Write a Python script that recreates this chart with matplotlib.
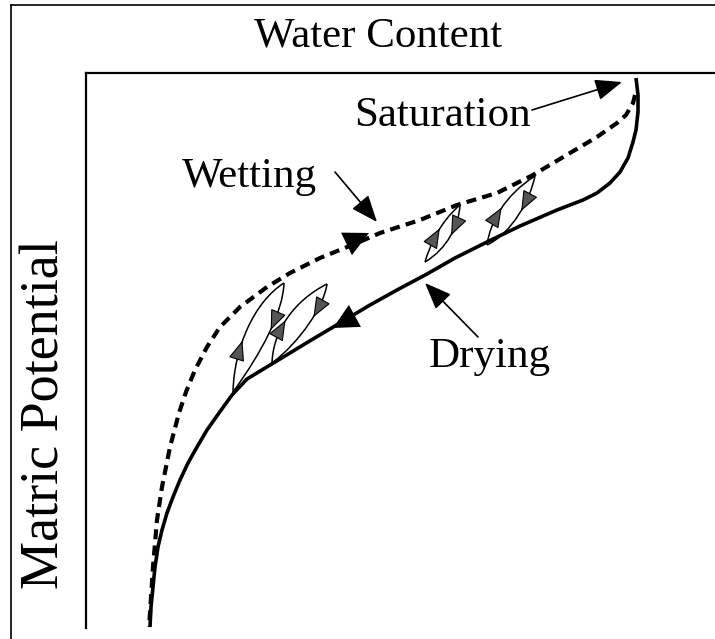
import matplotlib
matplotlib.use("Agg")
import numpy as np
import matplotlib.pyplot as plt
from matplotlib.path import Path
from matplotlib.patches import PathPatch
from matplotlib.lines import Line2D

# main curves (x = water content, y = matric potential, image units)
drying_x = [636, 638, 638, 636, 633, 628, 620, 610, 597, 583, 557, 520, 487, 455, 427, 397,
            370, 340, 313, 280, 247, 232, 219, 207, 197, 188, 180, 173, 167, 162, 158, 155,
            153, 151, 150]
drying_y = [78, 95, 112, 130, 142, 158, 172, 183, 193, 200, 210, 226, 242, 258, 274, 290,
            305, 323, 339, 359, 379, 395, 413, 430, 447, 463, 480, 497, 513, 530, 547, 567,
            587, 607, 627]

wetting_x = [635, 633, 626, 617, 597, 570, 533, 497, 457, 420, 380, 357, 320, 290, 267, 240,
             220, 207, 195, 186, 179, 170, 162, 157, 153, 150, 149]
wetting_y = [95, 103, 115, 123, 137, 153, 175, 193, 205, 220, 233, 243, 258, 273, 287, 307,
             327, 347, 370, 392, 413, 447, 487, 520, 567, 613, 627]

# scanning loops: bottom point, top point and the two control points of each arc
loop_bottom = [(233, 392), (272, 363), (425, 262), (487, 245)]
loop_top = [(284, 283), (327, 284), (460, 205), (535, 176)]
loop_wet_ctrl = [[(234, 348), (254, 302)], [(273, 330), (295, 300)],
                 [(430, 245), (440, 222)], [(490, 222), (505, 195)]]
loop_dry_ctrl = [[(283, 312), (262, 352)], [(324, 306), (300, 342)],
                 [(459, 225), (447, 249)], [(530, 200), (512, 233)]]
loop_wet_t = [0.35, 0.4, 0.5, 0.45]
loop_dry_t = [0.42, 0.36, 0.4, 0.38]

labels = ["Saturation", "Wetting", "Drying"]
label_pos = [(442, 116), (249, 177), (490, 357)]
label_arrow_tail = [(532, 110), (335, 172), (478, 337)]
label_arrow_tip = [(622, 82), (377, 222), (425, 283)]

fig = plt.figure(figsize=(7.15, 6.39), dpi=100)
ax = fig.add_axes([86 / 715, 1 - 628 / 639, 1 - 86 / 715, (628 - 73) / 639])
ax.set_xlim(86, 715)
ax.set_ylim(628, 73)
ax.set_xticks([])
ax.set_yticks([])
for s in ["right", "bottom"]:
    ax.spines[s].set_visible(False)
for s in ["left", "top"]:
    ax.spines[s].set_linewidth(1.6)

# outer frame of the picture
fig.add_artist(Line2D([11 / 715, 11 / 715], [0, 1 - 5 / 639], transform=fig.transFigure,
                      color="black", lw=1.2))
fig.add_artist(Line2D([11 / 715, 1], [1 - 5 / 639, 1 - 5 / 639], transform=fig.transFigure,
                      color="black", lw=1.2))

ax.plot(drying_x, drying_y, color="black", lw=2.6, solid_joinstyle="round",
        solid_capstyle="butt", clip_on=False)
ax.plot(wetting_x, wetting_y, color="black", lw=3.0, dashes=(2.4, 1.5),
        dash_capstyle="butt", clip_on=False)

# big direction arrows on the main curves
big = dict(arrowstyle="-|>,head_length=0.6,head_width=0.3", color="black", lw=0,
           mutation_scale=30, shrinkA=0, shrinkB=0)
ax.annotate("", xy=(369, 233), xytext=(340, 247), arrowprops=big)
ax.annotate("", xy=(333, 328), xytext=(362, 312), arrowprops=big)


def bez(p0, c1, c2, p1, t):
    p0, c1, c2, p1 = [np.array(p, float) for p in (p0, c1, c2, p1)]
    pt = ((1 - t) ** 3 * p0 + 3 * (1 - t) ** 2 * t * c1 + 3 * (1 - t) * t ** 2 * c2
          + t ** 3 * p1)
    d = 3 * (1 - t) ** 2 * (c1 - p0) + 6 * (1 - t) * t * (c2 - c1) + 3 * t ** 2 * (p1 - c2)
    return pt, d / np.hypot(*d)


small = dict(arrowstyle="-|>,head_length=0.75,head_width=0.3", fc="#555555", ec="black",
             lw=0.8, mutation_scale=17, shrinkA=0, shrinkB=0)
for b, tp, cw, cd, tw, td in zip(loop_bottom, loop_top, loop_wet_ctrl, loop_dry_ctrl,
                                 loop_wet_t, loop_dry_t):
    for p0, (c1, c2), p1, t in [(b, cw, tp, tw), (tp, cd, b, td)]:
        path = Path([p0, c1, c2, p1], [Path.MOVETO, Path.CURVE4, Path.CURVE4, Path.CURVE4])
        ax.add_patch(PathPatch(path, fill=False, ec="black", lw=1.1))
        pt, d = bez(p0, c1, c2, p1, t)
        ax.annotate("", xy=pt + 6 * d, xytext=pt - 6 * d, arrowprops=small)

thin = dict(arrowstyle="-|>,head_length=0.75,head_width=0.3", color="black", lw=1.2,
            mutation_scale=22, shrinkA=0, shrinkB=0)
for txt, pos, tail, tip in zip(labels, label_pos, label_arrow_tail, label_arrow_tip):
    ax.text(pos[0], pos[1], txt, family="Liberation Serif", fontsize=31,
            ha="center", va="center")
    ax.annotate("", xy=tip, xytext=tail, arrowprops=thin, annotation_clip=False)

ax.text(378, 36, "Water Content", family="Liberation Serif", fontsize=31,
        ha="center", va="center")
ax.text(45, 414, "Matric Potential", family="Liberation Serif", fontsize=39,
        ha="center", va="center", rotation=90)

fig.savefig("out.png", dpi=100)
